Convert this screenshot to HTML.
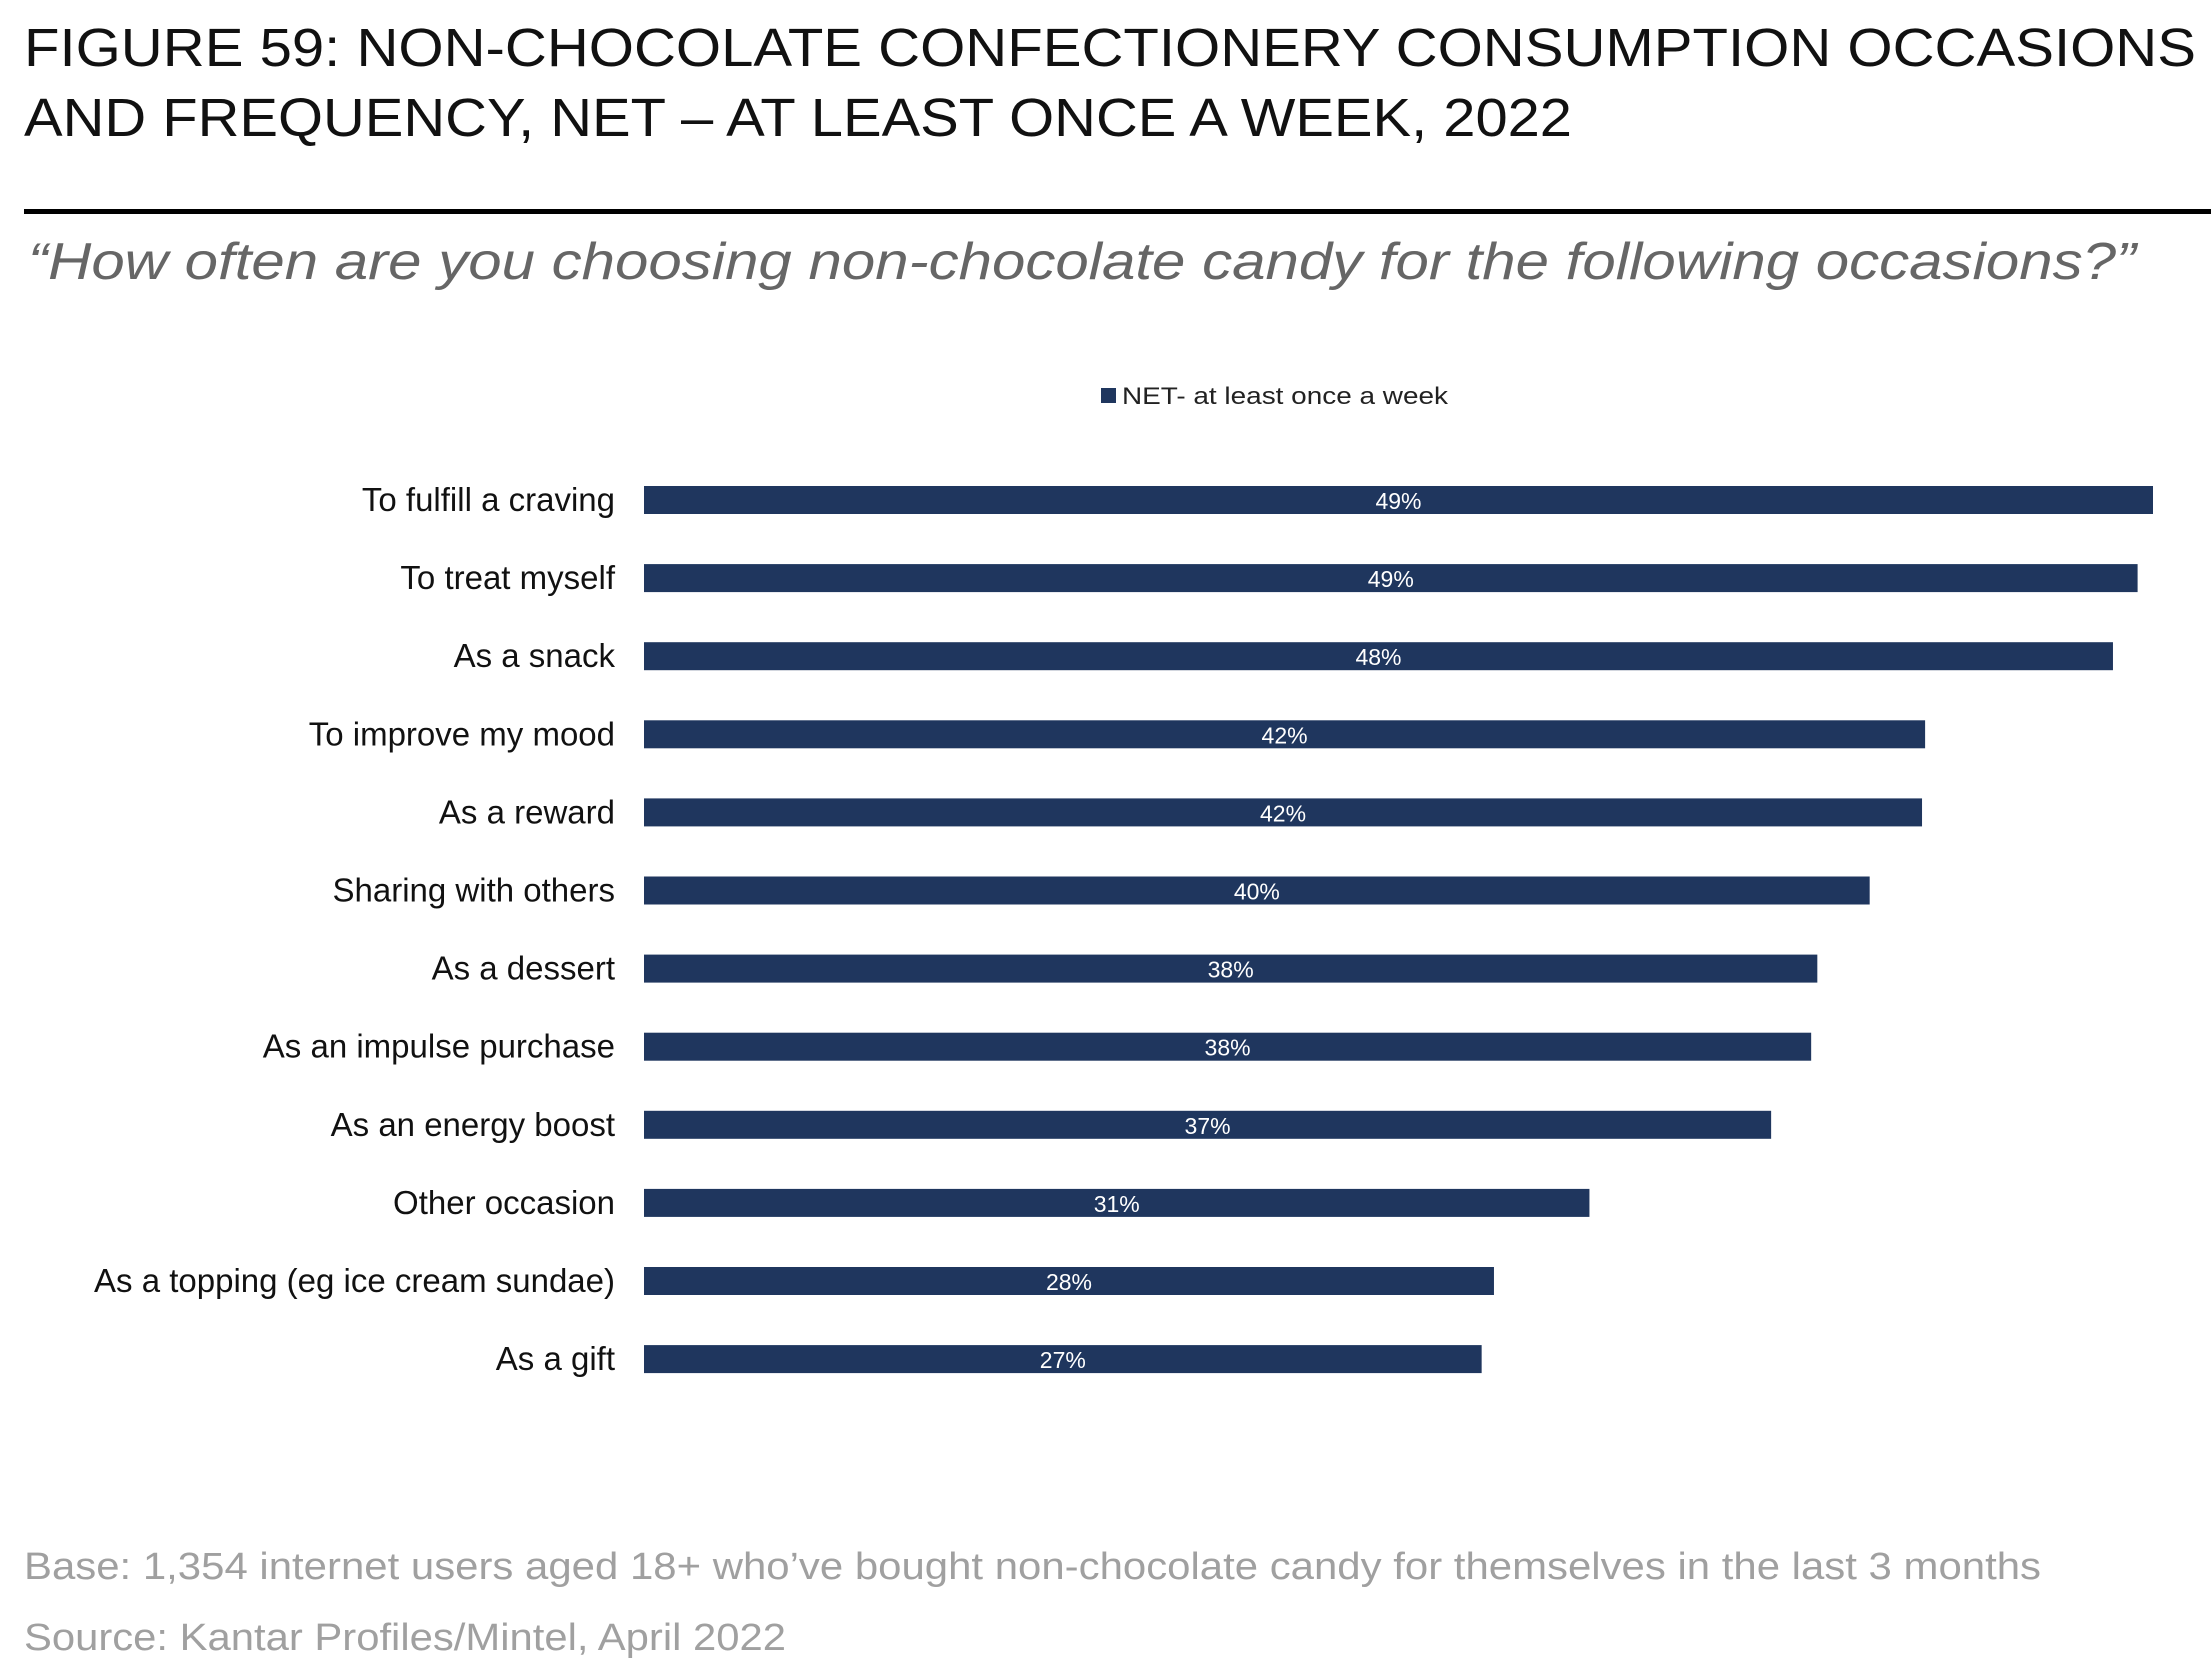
<!DOCTYPE html>
<html><head><meta charset="utf-8"><style>
html,body{margin:0;padding:0;background:#fff;}
svg{display:block;}
</style></head><body>
<svg id="chart" width="2211" height="1659" viewBox="0 0 2211 1659" xmlns="http://www.w3.org/2000/svg" font-family="Liberation Sans, sans-serif">
<text x="24" y="66" font-size="54" fill="#111" textLength="2172" lengthAdjust="spacingAndGlyphs">FIGURE 59: NON-CHOCOLATE CONFECTIONERY CONSUMPTION OCCASIONS</text>
<text x="24" y="136" font-size="54" fill="#111" textLength="1548" lengthAdjust="spacingAndGlyphs">AND FREQUENCY, NET – AT LEAST ONCE A WEEK, 2022</text>
<rect x="24" y="209" width="2187" height="5" fill="#000"/>
<text x="28" y="279" font-size="52" font-style="italic" fill="#666" textLength="2108" lengthAdjust="spacingAndGlyphs">“How often are you choosing non-chocolate candy for the following occasions?”</text>
<rect x="1101" y="388" width="15" height="15" fill="#1f365e"/>
<text x="1122" y="404" font-size="24" fill="#222" textLength="326" lengthAdjust="spacingAndGlyphs">NET- at least once a week</text>
<g id="bars"></g>
<text x="24" y="1579" font-size="38" fill="#a0a0a0" textLength="2017" lengthAdjust="spacingAndGlyphs">Base: 1,354 internet users aged 18+ who’ve bought non-chocolate candy for themselves in the last 3 months</text>
<text x="24" y="1650" font-size="38" fill="#a0a0a0" textLength="762" lengthAdjust="spacingAndGlyphs">Source: Kantar Profiles/Mintel, April 2022</text>
</svg>
<script>
const categories = ["To fulfill a craving","To treat myself","As a snack","To improve my mood","As a reward","Sharing with others","As a dessert","As an impulse purchase","As an energy boost","Other occasion","As a topping (eg ice cream sundae)","As a gift"];
const values = [49.0, 48.5, 47.7, 41.6, 41.5, 39.8, 38.1, 37.9, 36.6, 30.7, 27.6, 27.2];
const valueLabels = ["49%","49%","48%","42%","42%","40%","38%","38%","37%","31%","28%","27%"];

const NS = "http://www.w3.org/2000/svg";
const x0 = 644, pxPerPct = 1509 / 49;
const xScale = v => x0 + v * pxPerPct;
const yCenter = i => 500 + i * 78.1;
const barH = 28;
const g = document.getElementById("bars");
categories.forEach((c, i) => {
  const yc = yCenter(i);
  const r = document.createElementNS(NS, "rect");
  r.setAttribute("x", x0);
  r.setAttribute("y", yc - barH / 2);
  r.setAttribute("width", xScale(values[i]) - x0);
  r.setAttribute("height", barH);
  r.setAttribute("fill", "#1f365e");
  
  
  g.appendChild(r);
  const t = document.createElementNS(NS, "text");
  t.setAttribute("x", 615);
  t.setAttribute("y", yc + 11);
  t.setAttribute("text-anchor", "end");
  t.setAttribute("font-size", "33");
  t.setAttribute("fill", "#111");
  t.textContent = c;
  
  
  g.appendChild(t);
  const v = document.createElementNS(NS, "text");
  v.setAttribute("x", (x0 + xScale(values[i])) / 2);
  v.setAttribute("y", yc + 9);
  v.setAttribute("text-anchor", "middle");
  v.setAttribute("font-size", "23");
  v.setAttribute("fill", "#fff");
  v.textContent = valueLabels[i];
  
  
  g.appendChild(v);
});
</script>
</body></html>
